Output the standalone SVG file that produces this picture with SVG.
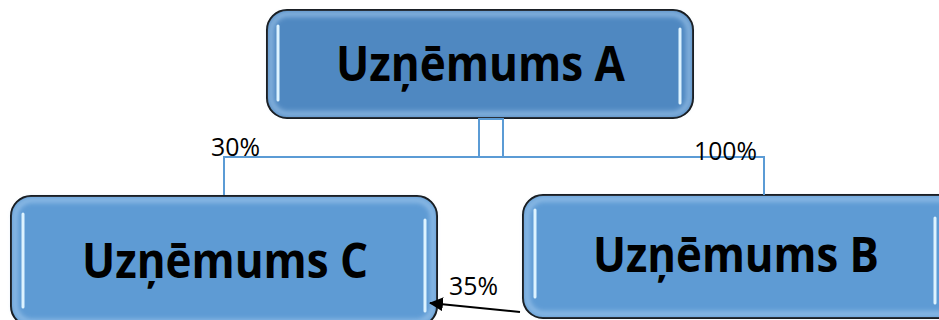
<svg xmlns="http://www.w3.org/2000/svg" width="939" height="320" viewBox="0 0 939 320">
<style>
.box{stroke:#000;stroke-width:2}
.glow{fill:none;stroke:#A8CDF0;stroke-width:5;opacity:0.7}
.hl{stroke:#DDF3FF;stroke-width:3;stroke-linecap:round}
.lbl{font-family:"Open Sans","Liberation Sans",sans-serif;font-weight:bold;font-size:48px;fill:#000}
.pct{font-family:"Open Sans","Liberation Sans",sans-serif;font-size:25px;fill:#000}
.conn{fill:none;stroke:#5B9BD5;stroke-width:2}
</style>
<defs>
<filter id="blur" x="-5%" y="-5%" width="110%" height="110%"><feGaussianBlur stdDeviation="2.5"/></filter>
<marker id="ah" markerWidth="14" markerHeight="14" refX="13" refY="7" orient="auto" markerUnits="userSpaceOnUse" viewBox="0 0 14 14">
<path d="M0,0 L14,7 L0,14 Z" fill="#000"/>
</marker>
</defs>
<g id="nodeA">
<rect class="box" x="267" y="10" width="426" height="108" rx="20" fill="#4F88C1"/>
<rect class="glow" x="271" y="14" width="418" height="100" rx="17" filter="url(#blur)"/>
<line class="hl" x1="278" y1="26" x2="278" y2="100"/>
<line class="hl" x1="680" y1="29" x2="680" y2="103"/>
<text class="lbl" x="336" y="81" textLength="289" lengthAdjust="spacingAndGlyphs">Uzņēmums A</text>
</g>
<g id="nodeC">
<rect class="box" x="11" y="196" width="426" height="130" rx="20" fill="#5E9BD4"/>
<rect class="glow" x="15" y="200" width="418" height="122" rx="17" filter="url(#blur)"/>
<line class="hl" x1="23" y1="214" x2="23" y2="307"/>
<line class="hl" x1="425" y1="220" x2="425" y2="311"/>
<text class="lbl" x="82" y="278" textLength="286" lengthAdjust="spacingAndGlyphs">Uzņēmums C</text>
</g>
<g id="nodeB">
<rect class="box" x="523" y="195" width="440" height="123" rx="20" fill="#5E9BD4"/>
<rect class="glow" x="527" y="199" width="432" height="115" rx="17" filter="url(#blur)"/>
<line class="hl" x1="535" y1="210" x2="535" y2="297"/>
<line class="hl" x1="935" y1="218" x2="935" y2="303"/>
<text class="lbl" x="593" y="272" textLength="286" lengthAdjust="spacingAndGlyphs">Uzņēmums B</text>
</g>
<g id="connectors">
<rect class="conn" x="479" y="119" width="24" height="38"/>
<polyline class="conn" points="224,195 224,157 764,157 764,195"/>
<line x1="520" y1="312" x2="430" y2="303" stroke="#000" stroke-width="2" marker-end="url(#ah)"/>
<text class="pct" x="211" y="156" textLength="49" lengthAdjust="spacingAndGlyphs">30%</text>
<text class="pct" x="694" y="160" textLength="63" lengthAdjust="spacingAndGlyphs">100%</text>
<text class="pct" x="449" y="295" textLength="49" lengthAdjust="spacingAndGlyphs">35%</text>
</g>
</svg>
